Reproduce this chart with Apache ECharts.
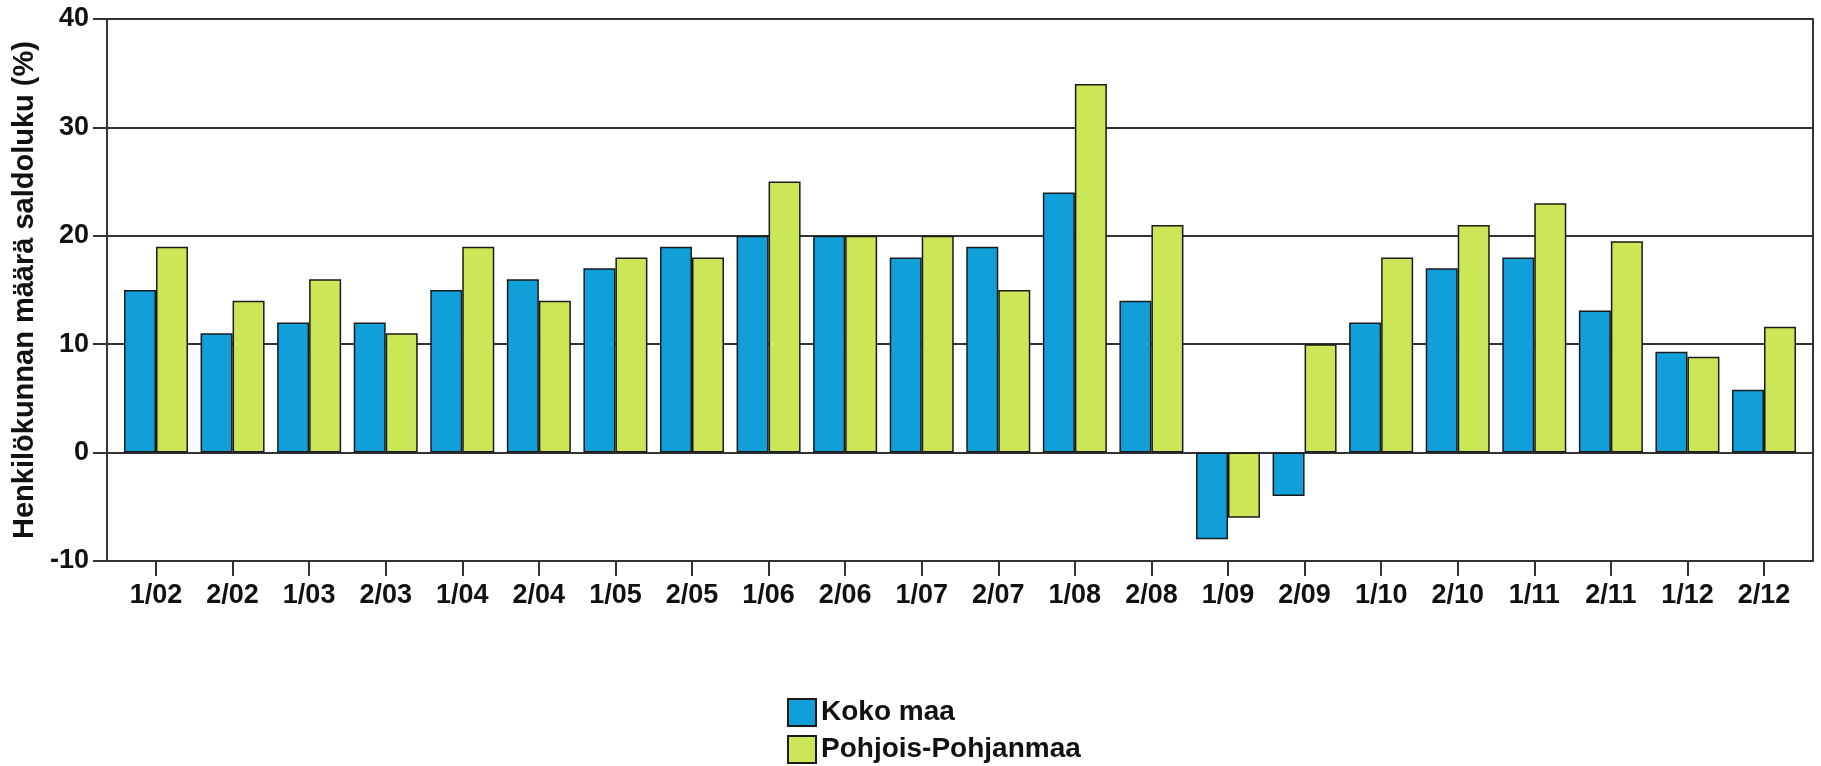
<!DOCTYPE html>
<html>
<head>
<meta charset="utf-8">
<script src="https://cdn.jsdelivr.net/npm/echarts@6/dist/echarts.min.js"></script>
<style>
html,body{margin:0;padding:0;background:#fff;}
#chart{width:1821px;height:766px;}
</style>
</head>
<body>
<div id="chart"></div>
<script>
const categories = ['1/02','2/02','1/03','2/03','1/04','2/04','1/05','2/05','1/06','2/06','1/07','2/07','1/08','2/08','1/09','2/09','1/10','2/10','1/11','2/11','1/12','2/12'];
const kokoMaa = [15, 11, 12, 12, 15, 16, 17, 19, 20, 20, 18, 19, 24, 14, -8, -4, 12, 17, 18, 13.1, 9.3, 5.8];
const pohjoisPohjanmaa = [19, 14, 16, 11, 19, 14, 18, 18, 25, 20, 20, 15, 34, 21, -6, 10, 18, 21, 23, 19.5, 8.85, 11.6];
const seriesNames = ['Koko maa', 'Pohjois-Pohjanmaa'];
const yTitle = 'Henkilökunnan määrä saldoluku (%)';
const yMin = -10, yMax = 40, yStep = 10;

const FONT = '"Liberation Sans", Arial, sans-serif';
const LINE = '#333';
const legendText = {fontSize: 28, fontWeight: 'bold', color: '#111', fontFamily: FONT};
const chart = echarts.init(document.getElementById('chart'), null, {renderer: 'canvas'});
chart.setOption({
  animation: false,
  backgroundColor: '#fff',
  textStyle: {fontFamily: FONT},
  grid: [
    {left: 107, right: 8, top: 19, height: 542, containLabel: false},
    {left: 117.7, right: 18.7, top: 19, height: 542, containLabel: false}
  ],
  legend: [
    {orient: 'vertical', left: 782, top: 693, itemWidth: 28, itemHeight: 27, itemGap: 6,
     icon: 'rect', data: [seriesNames[0]], textStyle: legendText},
    {orient: 'vertical', left: 782, top: 730, itemWidth: 28, itemHeight: 27, itemGap: 6,
     icon: 'rect', data: [seriesNames[1]], textStyle: legendText}
  ],
  xAxis: [
    {type: 'value', gridIndex: 0, min: 0, max: 1, show: true,
     axisLine: {show: true, onZero: false, lineStyle: {color: LINE, width: 2}},
     axisTick: {show: false}, axisLabel: {show: false}, splitLine: {show: false}},
    {type: 'category', gridIndex: 1, data: categories,
     axisLine: {show: false, onZero: false},
     axisTick: {show: true, alignWithLabel: true, length: 15, lineStyle: {color: LINE, width: 2}},
     axisLabel: {margin: 21, fontSize: 27, fontWeight: 'bold', color: '#111', fontFamily: FONT},
     splitLine: {show: false}}
  ],
  yAxis: [
    {type: 'value', gridIndex: 0, min: yMin, max: yMax, interval: yStep,
     name: yTitle, nameLocation: 'middle', nameRotate: 90, nameGap: 62,
     nameTextStyle: {fontSize: 29, fontWeight: 'bold', color: '#111', fontFamily: FONT},
     axisLine: {show: true, onZero: false, lineStyle: {color: LINE, width: 2}},
     axisTick: {show: true, length: 14, lineStyle: {color: LINE, width: 2}},
     axisLabel: {margin: 18, fontSize: 27, fontWeight: 'bold', color: '#111', fontFamily: FONT},
     splitLine: {show: true, lineStyle: {color: LINE, width: 2}}},
    {type: 'value', gridIndex: 0, min: yMin, max: yMax, interval: yStep, position: 'right',
     axisLine: {show: true, onZero: false, lineStyle: {color: LINE, width: 2}},
     axisTick: {show: false}, axisLabel: {show: false}, splitLine: {show: false}},
    {type: 'value', gridIndex: 1, min: yMin, max: yMax, interval: yStep, show: false,
     splitLine: {show: false}}
  ],
  series: [
    {name: seriesNames[0], type: 'bar', xAxisIndex: 1, yAxisIndex: 2, data: kokoMaa,
     barWidth: 32, barGap: '0%',
     itemStyle: {color: '#109fd8', borderColor: '#1a1a1a', borderWidth: 1.5}},
    {name: seriesNames[1], type: 'bar', xAxisIndex: 1, yAxisIndex: 2, data: pohjoisPohjanmaa,
     barWidth: 32, barGap: '0%',
     itemStyle: {color: '#cbe657', borderColor: '#1a1a1a', borderWidth: 1.5}}
  ]
});
</script>
</body>
</html>
